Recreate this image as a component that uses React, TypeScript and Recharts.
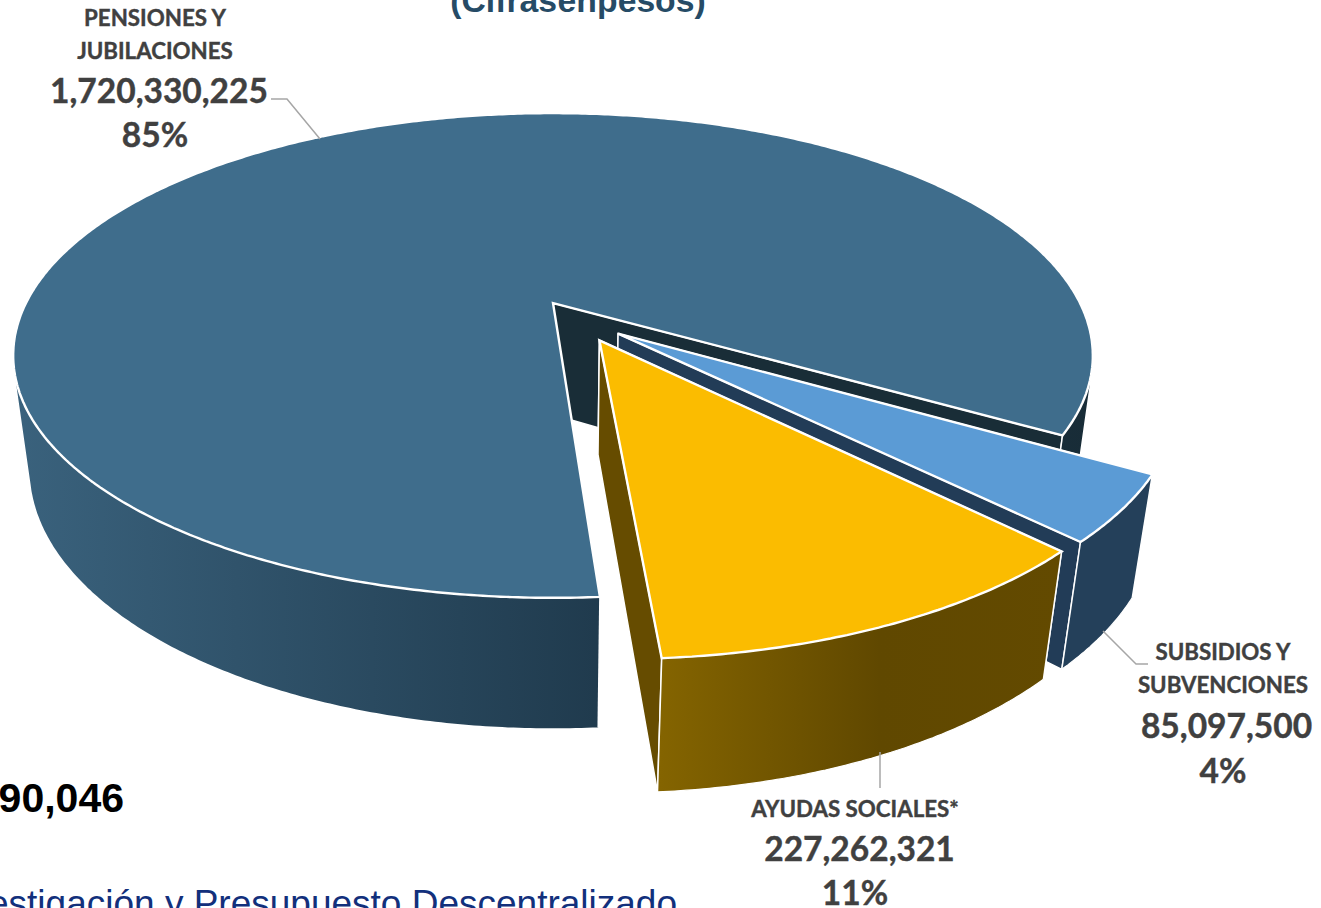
import React from "react";
import { PieChart, Pie } from "recharts";

const categories = ["PENSIONES Y JUBILACIONES", "SUBSIDIOS Y SUBVENCIONES", "AYUDAS SOCIALES*"];
const values = [1720330225, 85097500, 227262321];
const grandTotal = "2,032,690,046";
const titleText = "(Cifras en pesos)";
const sourceText = "Investigación y Presupuesto Descentralizado";

const topColors = ["#3F6D8C", "#5B9BD5", "#FBBC00"];
const cutColors = ["#192D37", "#223C57", "#664C00"];
const wallStops = [
  [["0%", "#3A627D"], ["54%", "#203B4E"], ["100%", "#182C37"]],
  [["0%", "#24405A"], ["100%", "#24405A"]],
  [["0%", "#846400"], ["55%", "#604800"], ["100%", "#634A00"]],
];
const wallRange = [[13, 1092], [1060, 1152], [660, 1060]];
const explodeX = [0, 0.12, 0.085];
const explodeY = [0, 0.129, 0.156];

const labelLines = [
  { x: 155, vx: 159, lines: [[26, 22.3], [59, 22.3]], val: 103, pct: 147, leader: "271,99 287,99 320,139" },
  { x: 1223, vx: 1226.5, lines: [[660, 22.3], [693, 22.3]], val: 738, pct: 783, leader: "1103,631 1136,664 1148,664" },
  { x: 855, vx: 859.5, lines: [[817, 22.3]], val: 861, pct: 905, leader: "880,752 880,788" },
];
const labelWrap = [["PENSIONES Y", "JUBILACIONES"], ["SUBSIDIOS Y", "SUBVENCIONES"], ["AYUDAS SOCIALES*"]];

const table = categories.map((name, i) => ({ name, value: values[i], fill: topColors[i] }));

const TILT = 231;
const K = 0.2165;
const M = 0.03;
const DROP = 115;

function project(cx: number, cy: number, r: number, X: number, Y: number, Z: number) {
  const w = 1 - K * Y + M * Z;
  return [cx + (r * X) / w, cy + ((TILT * Y * r) / 527 + DROP * Z) / w];
}

function poly(pts: number[][]) {
  return "M" + pts.map((p) => p[0].toFixed(1) + "," + p[1].toFixed(1)).join("L") + "Z";
}
function line(pts: number[][]) {
  return "M" + pts.map((p) => p[0].toFixed(1) + "," + p[1].toFixed(1)).join("L");
}
function oriented(pts: number[][]) {
  let area = 0;
  pts.forEach((p, j) => {
    const q = pts[(j + 1) % pts.length];
    area += p[0] * q[1] - q[0] * p[1];
  });
  return area < 0 ? pts.slice().reverse() : pts;
}

function Slice(props: any) {
  const { cx, cy, outerRadius: r, startAngle, endAngle, fill, name, payload } = props;
  const i = categories.indexOf(name ?? payload?.name);
  const dx = explodeX[i];
  const dy = explodeY[i];
  const n = Math.ceil(Math.abs(endAngle - startAngle) / 0.5);
  const angle = (s: number) => ((startAngle + ((endAngle - startAngle) * s) / n) * Math.PI) / 180;
  const arc = (Z: number) => {
    const out: number[][] = [];
    for (let s = 0; s <= n; s++) {
      const a = angle(s);
      out.push(project(cx, cy, r, Math.cos(a) + dx, -Math.sin(a) + dy, Z));
    }
    return out;
  };
  const top = arc(0);
  const bot = arc(1);
  const apexT = project(cx, cy, r, dx, dy, 0);
  const apexB = project(cx, cy, r, dx, dy, 1);
  const gid = "wall" + i;
  let quads = "";
  for (let s = 0; s < n; s++) {
    quads += poly(oriented([top[s], top[s + 1], bot[s + 1], bot[s]]));
  }
  const last = top.length - 1;
  return (
    <g>
      <defs>
        <linearGradient id={gid} gradientUnits="userSpaceOnUse" x1={wallRange[i][0]} x2={wallRange[i][1]} y1={0} y2={0}>
          {wallStops[i].map((s) => (
            <stop key={s[0]} offset={s[0]} stopColor={s[1]} />
          ))}
        </linearGradient>
      </defs>
      <path d={poly([apexT, top[0], bot[0], apexB])} fill={cutColors[i]} stroke="#fff" strokeWidth={1.5} />
      <path d={poly([apexT, top[last], bot[last], apexB])} fill={cutColors[i]} stroke="#fff" strokeWidth={1.5} />
      <path d={quads} fill={`url(#${gid})`} stroke="none" />
      <path d={line([top[0], bot[0]])} fill="none" stroke="#fff" strokeWidth={1.5} />
      <path d={line([top[last], bot[last]])} fill="none" stroke="#fff" strokeWidth={1.5} />
      {i > 0 ? <path d={line(bot)} fill="none" stroke="#fff" strokeWidth={1.2} /> : null}
      <path d={poly([apexT, ...top])} fill={fill} stroke="#fff" strokeWidth={2.4} strokeLinejoin="miter" />
    </g>
  );
}

function SliceLabel(props: any) {
  const { name, value, percent } = props;
  const i = categories.indexOf(name);
  const cfg = labelLines[i];
  const common = {
    fontFamily: "Lato",
    fontWeight: 700,
    fill: "#404040",
    stroke: "#404040",
    strokeWidth: 0.4,
    textAnchor: "middle" as const,
  };
  return (
    <g>
      <polyline points={cfg.leader} fill="none" stroke="#A6A6A6" strokeWidth={1.5} />
      {labelWrap[i].map((t, j) => (
        <text key={t} x={cfg.x} y={cfg.lines[j][0]} fontSize={cfg.lines[j][1]} {...common}>
          {t}
        </text>
      ))}
      <text x={cfg.vx} y={cfg.val} fontSize={33.5} {...common}>
        {Number(value).toLocaleString("en-US")}
      </text>
      <text x={cfg.x} y={cfg.pct} fontSize={33.5} {...common}>
        {Math.round(percent * 100)}%
      </text>
    </g>
  );
}

export default function App() {
  return (
    <div style={{ position: "absolute", left: 0, top: 0, width: 1321, height: 908, overflow: "hidden", background: "#fff" }}>
      <PieChart width={1321} height={908} margin={{ top: 0, right: 0, bottom: 0, left: 0 }}>
        <Pie
          data={table}
          dataKey="value"
          nameKey="name"
          cx={553}
          cy={303}
          innerRadius={0}
          outerRadius={527}
          startAngle={-86}
          endAngle={-446}
          stroke="none"
          isAnimationActive={false}
          shape={Slice}
          label={SliceLabel}
          labelLine={false}
        />
        <text x={578} y={12} textAnchor="middle" fontFamily="Liberation Sans" fontWeight={700} fontSize={33.7} fill="#264B66" wordSpacing={-9}>
          {titleText}
        </text>
        <text x={124} y={812} textAnchor="end" fontFamily="Liberation Sans" fontWeight={700} fontSize={41} fill="#000">
          {grandTotal}
        </text>
        <text x={677} y={916} textAnchor="end" fontFamily="Liberation Sans" fontSize={37} fill="#12307C">
          {sourceText}
        </text>
      </PieChart>
    </div>
  );
}
